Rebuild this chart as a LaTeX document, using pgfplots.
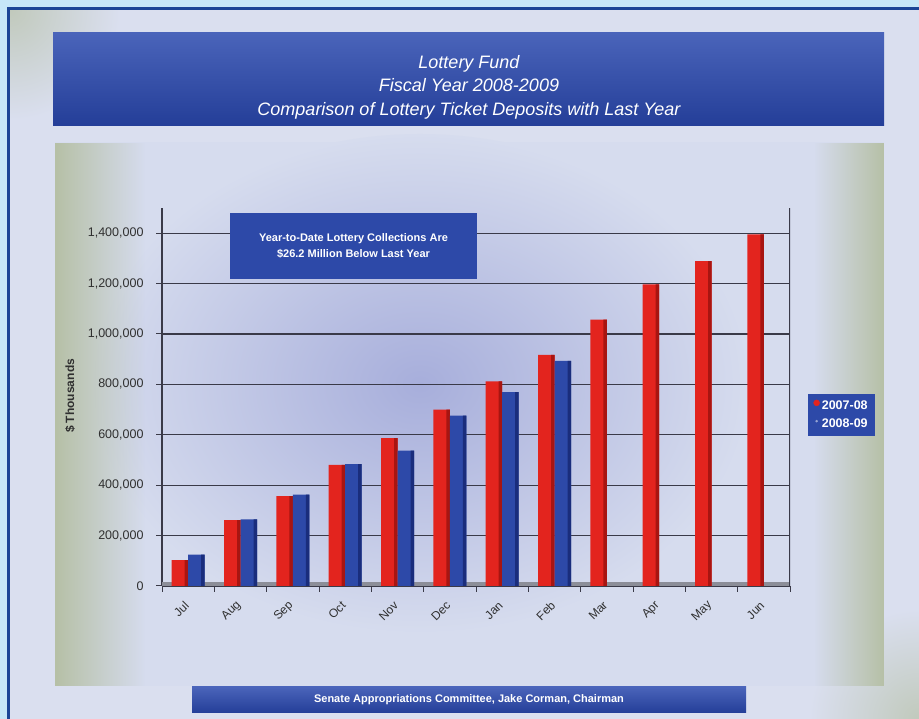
\documentclass[border=0pt]{standalone}
\usepackage{fontspec}
\setmainfont{Liberation Sans}
\usepackage{pgfplots}
\pgfplotsset{compat=1.18}
\usetikzlibrary{fadings}
\definecolor{skyb}{HTML}{C6E6F8}
\definecolor{frameb}{HTML}{1B4496}
\definecolor{bgc}{HTML}{DADFEF}
\definecolor{banA}{HTML}{4A64BA}
\definecolor{banB}{HTML}{243E98}
\definecolor{redbar}{HTML}{E3241E}
\definecolor{redbarD}{HTML}{A81511}
\definecolor{bluebar}{HTML}{2D49A8}
\definecolor{bluebarD}{HTML}{1A2D7C}
\definecolor{gridc}{HTML}{3A3A48}
\definecolor{floorc}{HTML}{8C8E98}
\definecolor{lavA}{HTML}{A7AEDB}
\definecolor{lightC}{HTML}{D6DCEE}
\definecolor{greenA}{HTML}{B6C0A6}
\definecolor{ticktext}{HTML}{303030}
\begin{document}
\begin{tikzpicture}[x=1pt,y=1pt]
\useasboundingbox (0,0) rectangle (919,719);
% backgrounds
\fill[skyb] (0,0) rectangle (919,719);
\fill[bgc] (9,0) rectangle (919,710);
\begin{scope}
  \clip (9,0) rectangle (919,710);
  \shade[inner color=greenA!70!bgc, outer color=bgc] (10,709) circle (110);
  \shade[inner color=greenA!70!bgc, outer color=bgc] (919,0) circle (110);
\end{scope}
\draw[frameb, line width=2.5pt] (8.5,0) -- (8.5,710.5) -- (919,710.5);
% panel
\fill[lightC] (55,33) rectangle (884,577);
\shade[inner color=lavA, outer color=lightC] (420,335) ellipse (330 and 250);
\fill[greenA, path fading=east] (55,33) rectangle (145,577);
\fill[greenA, path fading=west] (814,33) rectangle (884,577);
% title banner
\shade[top color=banA, bottom color=banB] (53,593) rectangle (884,686);
\node[text=white, align=center, font=\itshape\fontsize{18}{23.5}\selectfont] at (469,632)
  {Lottery Fund\\Fiscal Year 2008-2009\\Comparison of Lottery Ticket Deposits with Last Year};
% footer banner
\shade[top color=banA, bottom color=banB] (192,6) rectangle (746,32);
\node[text=white, font=\bfseries\fontsize{11}{13}\selectfont] at (469,19)
  {Senate Appropriations Committee, Jake Corman, Chairman};
% y label
\node[rotate=90, text=ticktext, font=\bfseries\fontsize{12}{14}\selectfont] at (70,323) {\$ Thousands};
\begin{axis}[
  at={(162pt,133pt)}, anchor=south west,
  width=628pt, height=378pt, scale only axis,
  xmin=-0.5, xmax=11.5, ymin=0, ymax=1500000,
  axis x line*=bottom, axis y line*=left,
  axis line style={gridc, line width=1.2pt},
  tick align=outside,
  major tick length=6pt,
  minor tick length=6pt,
  tick style={gridc, line width=1pt},
  xtick={0,1,2,3,4,5,6,7,8,9,10,11},
  xticklabels={Jul,Aug,Sep,Oct,Nov,Dec,Jan,Feb,Mar,Apr,May,Jun},
  minor xtick={-0.5,0.5,...,11.5},
  major x tick style={draw=none},
  x tick label style={xshift=1pt, yshift=-9pt, rotate=45, anchor=east, text=ticktext,
      font=\fontsize{12}{12}\selectfont},
  ytick={0,200000,400000,600000,800000,1000000,1200000,1400000},
  scaled y ticks=false,
  y tick label style={xshift=-9pt, text=ticktext, font=\fontsize{12.5}{14}\selectfont,
    /pgf/number format/.cd, fixed, 1000 sep={,}, assume math mode=true},
  ymajorgrids=true, xmajorgrids=false, xminorgrids=false,
  major y grid style={gridc, line width=1.3pt},
  legend style={at={(1.029,0.509)}, anchor=north west, fill=bluebar, draw=none,
    text=white, font=\bfseries\fontsize{12.5}{14}\selectfont,
    inner xsep=5pt, inner ysep=5pt, row sep=4pt, cells={anchor=west}},
  legend cell align=left,
]
\fill[floorc] (axis cs:-0.5,0) rectangle ([yshift=3.5pt]axis cs:11.5,0);
\draw[gridc, line width=1.2pt] (rel axis cs:1,0) -- (rel axis cs:1,1);
% 2007-08 (red): body and darker right edge
\addplot[forget plot, ybar, bar width=16.5pt, bar shift=-8.25pt, draw=none, fill=redbar]
  coordinates {(0,103000) (1,261000) (2,357000) (3,481000) (4,587000) (5,700000)
    (6,812000) (7,917000) (8,1057000) (9,1197000) (10,1289000) (11,1395000)};
\addplot[forget plot, ybar, bar width=3.5pt, bar shift=-1.75pt, draw=none, fill=redbarD]
  coordinates {(0,103000) (1,261000) (2,357000) (3,481000) (4,587000) (5,700000)
    (6,812000) (7,917000) (8,1057000) (9,1197000) (10,1289000) (11,1395000)};
% 2008-09 (blue)
\addplot[forget plot, ybar, bar width=16.5pt, bar shift=8.25pt, draw=none, fill=bluebar]
  coordinates {(0,124000) (1,264000) (2,363000) (3,484000) (4,537000) (5,676000)
    (6,769000) (7,893000)};
\addplot[forget plot, ybar, bar width=3.5pt, bar shift=14.75pt, draw=none, fill=bluebarD]
  coordinates {(0,124000) (1,264000) (2,363000) (3,484000) (4,537000) (5,676000)
    (6,769000) (7,893000)};
\addlegendimage{legend image code/.code={\fill[redbar] (4pt,3pt) circle (3pt);}}
\addlegendentry{2007-08}
\addlegendimage{legend image code/.code={\fill[bluebar!50!white] (4pt,3pt) circle (1pt);}}
\addlegendentry{2008-09}
\end{axis}
% annotation box
\node[fill=bluebar, text=white, align=center,
  font=\bfseries\fontsize{11}{16}\selectfont,
  minimum width=247pt, minimum height=66pt, inner sep=0pt] at (353.5,473)
  {Year-to-Date Lottery Collections Are\\\$26.2 Million Below Last Year};
\end{tikzpicture}
\end{document}
